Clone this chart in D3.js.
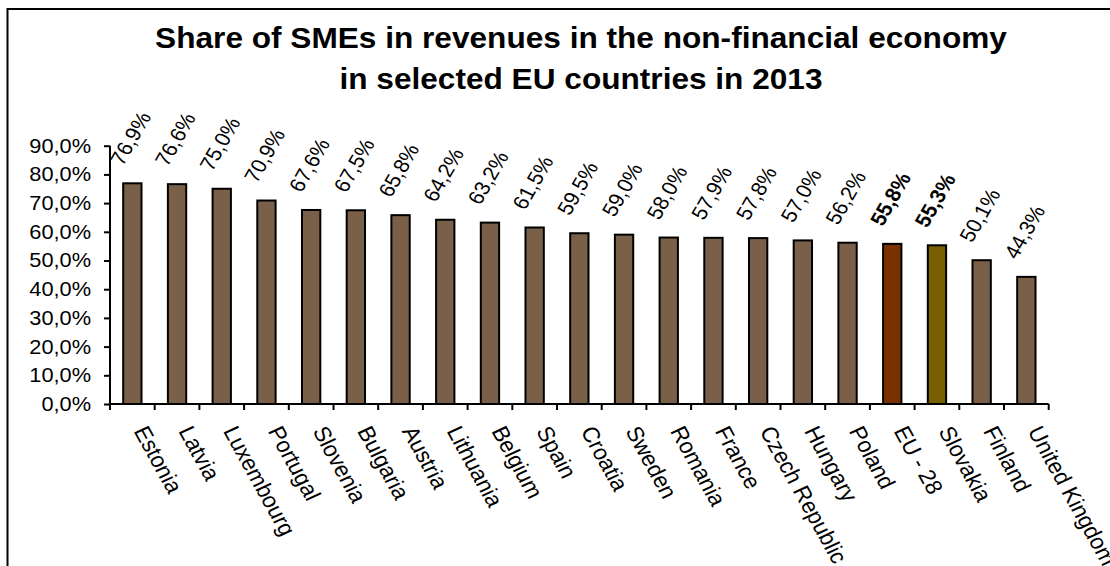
<!DOCTYPE html>
<html>
<head>
<meta charset="utf-8">
<script src="https://cdn.jsdelivr.net/npm/d3@7"></script>
<style>
    body { margin: 0; background: #fff; }
    svg { display: block; font-family: "Liberation Sans", Arial, sans-serif; }
</style>
</head>
<body>
<div id="plotRegi"></div>
<script>
// Data
var countries = ["Estonia", "Latvia", "Luxembourg", "Portugal", "Slovenia", "Bulgaria", "Austria",
    "Lithuania", "Belgium", "Spain", "Croatia", "Sweden", "Romania", "France", "Czech Republic",
    "Hungary", "Poland", "EU - 28", "Slovakia", "Finland", "United Kingdom"]
var shares = [76.9, 76.6, 75.0, 70.9, 67.6, 67.5, 65.8, 64.2, 63.2, 61.5, 59.5, 59.0, 58.0,
    57.9, 57.8, 57.0, 56.2, 55.8, 55.3, 50.1, 44.3]
var yTicks = [0, 10, 20, 30, 40, 50, 60, 70, 80, 90]
var highlight = { "EU - 28": "#7a3100", "Slovakia": "#786000" }
var titleLines = ["Share of SMEs in revenues in the non-financial economy",
    "in selected EU countries in 2013"]

var width = 1110, height = 566
var sx = 1.09   // text in the picture is a little wider than plain Arial
var fmt = function (v) { return v.toFixed(1).replace(".", ",") + "%" }

var svg = d3.select("#plotRegi")
    .append("svg")
    .attr("width", width)
    .attr("height", height)

// Frame (runs off the right and bottom edges)
svg.append("rect")
    .attr("x", 7.5).attr("y", 9)
    .attr("width", 1200).attr("height", 700)
    .attr("fill", "none")
    .attr("stroke", "#000")
    .attr("stroke-width", 2)

// Title
svg.append("g")
    .selectAll("text")
    .data(titleLines)
    .enter()
    .append("text")
    .attr("transform", (d, i) => "translate(581," + (48 + i * 41) + ") scale(" + sx + ",1)")
    .attr("text-anchor", "middle")
    .style("font-size", "29px")
    .style("font-weight", "bold")
    .text(d => d)

// Scales
var scale_x = d3.scaleBand()
    .domain(countries)
    .range([110, 1048.7])
    .paddingInner(0.59)
    .paddingOuter(0.295)

var band = (1048.7 - 110) / countries.length

var scale_y = d3.scaleLinear()
    .domain([0, 90])
    .range([404, 145.7])

// Y axis
var axisY = svg.append("g")
    .attr("transform", "translate(110,0)")
    .call(d3.axisLeft(scale_y).tickValues(yTicks).tickSize(6).tickPadding(11.4).tickFormat(fmt))
axisY.select(".domain").attr("stroke-width", 2).attr("d", "M0,404V145.7")
axisY.selectAll(".tick line").attr("stroke-width", 2)
axisY.selectAll(".tick text")
    .style("font-size", "20px")
    .attr("fill", "#000")
    .attr("font-family", "Liberation Sans, Arial, sans-serif")
    .attr("transform", "scale(" + sx + ",1)")

// X axis: ticks sit between categories
var boundaries = d3.range(countries.length + 1).map(i => 110 + i * band)
var axisX = svg.append("g").attr("id", "AxisX")
axisX.append("line")
    .attr("x1", 110).attr("x2", 1048.7)
    .attr("y1", 404).attr("y2", 404)
    .attr("stroke", "#000").attr("stroke-width", 2)
axisX.selectAll("line.tk")
    .data(boundaries)
    .enter()
    .append("line")
    .attr("class", "tk")
    .attr("x1", d => d).attr("x2", d => d)
    .attr("y1", 404).attr("y2", 410)
    .attr("stroke", "#000").attr("stroke-width", 2)

// Category labels
axisX.selectAll("text")
    .data(countries)
    .enter()
    .append("text")
    .attr("transform", d => "translate(" + (scale_x(d) + scale_x.bandwidth() / 2 + 1) + ",431) scale(" + sx + ",1) rotate(63)")
    .style("font-size", "21.5px")
    .text(d => d)

// Bars
svg.append("g")
    .selectAll("rect")
    .data(countries)
    .enter()
    .append("rect")
    .attr("x", d => scale_x(d))
    .attr("y", (d, i) => scale_y(shares[i]))
    .attr("width", scale_x.bandwidth())
    .attr("height", (d, i) => 404 - scale_y(shares[i]))
    .attr("fill", d => highlight[d] || "#7a6048")
    .attr("stroke", "#000")
    .attr("stroke-width", 2)

// Value labels
svg.append("g")
    .selectAll("text")
    .data(countries)
    .enter()
    .append("text")
    .attr("transform", (d, i) => "translate(" + (scale_x(d) + scale_x.bandwidth() / 2 - 2) + "," +
        (scale_y(shares[i]) - 45) + ") scale(" + sx + ",1) rotate(-62)")
    .attr("text-anchor", "middle")
    .attr("dominant-baseline", "central")
    .style("font-size", "20px")
    .style("font-weight", d => highlight[d] ? "bold" : "normal")
    .text((d, i) => fmt(shares[i]))
</script>
</body>
</html>
